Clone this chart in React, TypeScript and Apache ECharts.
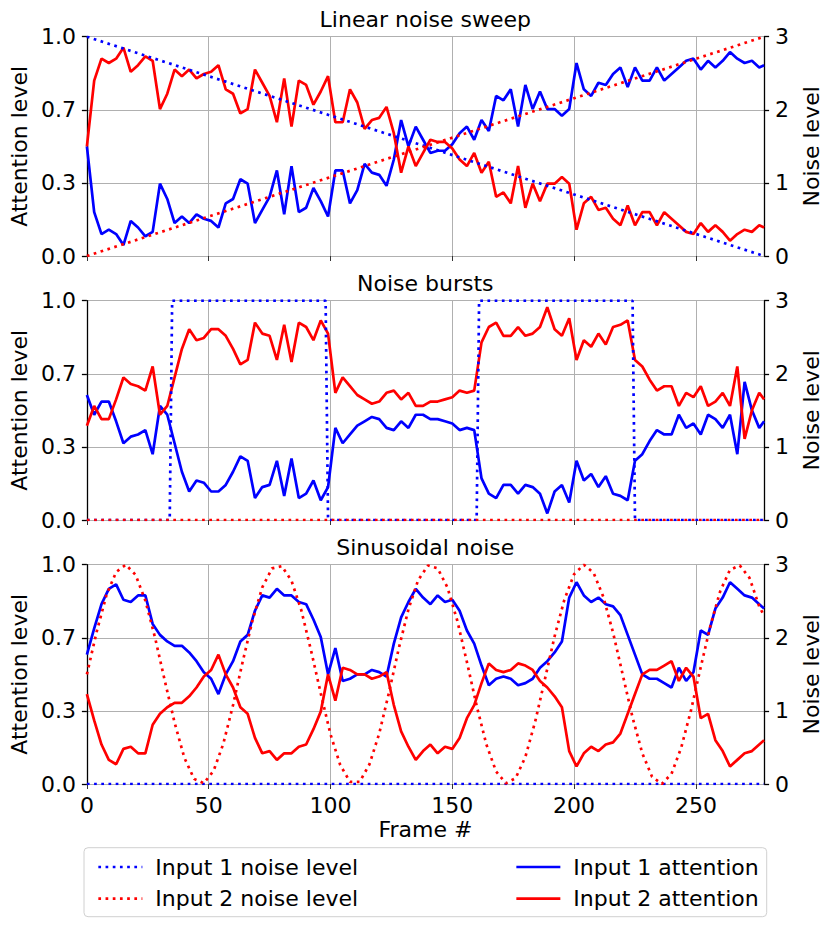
import React, { useEffect, useRef } from "react";
import * as echarts from "echarts";

// ---------- data ----------
const FRAMES = [
  0, 3, 6, 9, 12, 15, 18, 21, 24, 27,
  30, 33, 36, 39, 42, 45, 48, 51, 54, 57,
  60, 63, 66, 69, 72, 75, 78, 81, 84, 87,
  90, 93, 96, 99, 102, 105, 108, 111, 114, 117,
  120, 123, 126, 129, 132, 135, 138, 141, 144, 147,
  150, 153, 156, 159, 162, 165, 168, 171, 174, 177,
  180, 183, 186, 189, 192, 195, 198, 201, 204, 207,
  210, 213, 216, 219, 222, 225, 228, 231, 234, 237,
  240, 243, 246, 249, 252, 255, 258, 261, 264, 267,
  270, 273, 276, 278,
];

// Panel 1: linear noise sweep
const SWEEP_NOISE_FRAMES = [0, 278];
const SWEEP_NOISE1 = [3, 0];
const SWEEP_NOISE2 = [0, 3];
const SWEEP_ATT1 = [
  0.50, 0.20, 0.10, 0.12, 0.10, 0.05, 0.16, 0.13, 0.09, 0.11,
  0.33, 0.26, 0.15, 0.18, 0.15, 0.19, 0.17, 0.16, 0.13, 0.24,
  0.26, 0.35, 0.33, 0.15, 0.21, 0.27, 0.39, 0.19, 0.41, 0.20,
  0.22, 0.31, 0.25, 0.18, 0.39, 0.39, 0.24, 0.30, 0.42, 0.38,
  0.37, 0.32, 0.44, 0.62, 0.50, 0.59, 0.53, 0.47, 0.48, 0.48,
  0.51, 0.56, 0.59, 0.53, 0.62, 0.57, 0.73, 0.71, 0.76, 0.59,
  0.78, 0.67, 0.75, 0.67, 0.67, 0.64, 0.67, 0.88, 0.76, 0.73,
  0.79, 0.78, 0.83, 0.86, 0.77, 0.86, 0.80, 0.80, 0.86, 0.80,
  0.83, 0.86, 0.89, 0.90, 0.85, 0.89, 0.86, 0.89, 0.93, 0.90,
  0.88, 0.89, 0.86, 0.87,
];
const SWEEP_ATT2 = [
  0.50, 0.80, 0.90, 0.88, 0.90, 0.95, 0.84, 0.87, 0.91, 0.89,
  0.67, 0.74, 0.85, 0.82, 0.85, 0.81, 0.83, 0.84, 0.87, 0.76,
  0.74, 0.65, 0.67, 0.85, 0.79, 0.73, 0.61, 0.81, 0.59, 0.80,
  0.78, 0.69, 0.75, 0.82, 0.61, 0.61, 0.76, 0.70, 0.58, 0.62,
  0.63, 0.68, 0.56, 0.38, 0.50, 0.41, 0.47, 0.53, 0.52, 0.52,
  0.49, 0.44, 0.41, 0.47, 0.38, 0.43, 0.27, 0.29, 0.24, 0.41,
  0.22, 0.33, 0.25, 0.33, 0.33, 0.36, 0.33, 0.12, 0.24, 0.27,
  0.21, 0.22, 0.17, 0.14, 0.23, 0.14, 0.20, 0.20, 0.14, 0.20,
  0.17, 0.14, 0.11, 0.10, 0.15, 0.11, 0.14, 0.11, 0.07, 0.10,
  0.12, 0.11, 0.14, 0.13,
];

// Panel 2: noise bursts
const BURST_NOISE1_FRAMES = [0, 34, 35, 98, 99, 160, 161, 224, 225, 278];
const BURST_NOISE1 = [0, 0, 3, 3, 0, 0, 3, 3, 0, 0];
const BURST_NOISE2_FRAMES = [0, 278];
const BURST_NOISE2 = [0, 0];
const BURST_ATT1 = [
  0.57, 0.48, 0.54, 0.54, 0.45, 0.35, 0.38, 0.39, 0.41, 0.30,
  0.52, 0.48, 0.35, 0.22, 0.13, 0.18, 0.17, 0.13, 0.13, 0.16,
  0.22, 0.29, 0.27, 0.10, 0.15, 0.16, 0.27, 0.11, 0.28, 0.10,
  0.12, 0.18, 0.09, 0.15, 0.42, 0.35, 0.39, 0.43, 0.45, 0.47,
  0.46, 0.42, 0.41, 0.45, 0.42, 0.48, 0.48, 0.46, 0.46, 0.45,
  0.44, 0.41, 0.42, 0.41, 0.19, 0.12, 0.10, 0.16, 0.16, 0.12,
  0.16, 0.15, 0.12, 0.03, 0.13, 0.16, 0.08, 0.27, 0.18, 0.21,
  0.15, 0.20, 0.12, 0.11, 0.09, 0.27, 0.30, 0.36, 0.41, 0.39,
  0.39, 0.48, 0.42, 0.44, 0.39, 0.48, 0.46, 0.42, 0.48, 0.30,
  0.63, 0.50, 0.42, 0.45,
];
const BURST_ATT2 = [
  0.43, 0.52, 0.46, 0.46, 0.55, 0.65, 0.62, 0.61, 0.59, 0.70,
  0.48, 0.52, 0.65, 0.78, 0.87, 0.82, 0.83, 0.87, 0.87, 0.84,
  0.78, 0.71, 0.73, 0.90, 0.85, 0.84, 0.73, 0.89, 0.72, 0.90,
  0.88, 0.82, 0.91, 0.85, 0.58, 0.65, 0.61, 0.57, 0.55, 0.53,
  0.54, 0.58, 0.59, 0.55, 0.58, 0.52, 0.52, 0.54, 0.54, 0.55,
  0.56, 0.59, 0.58, 0.59, 0.81, 0.88, 0.90, 0.84, 0.84, 0.88,
  0.84, 0.85, 0.88, 0.97, 0.87, 0.84, 0.92, 0.73, 0.82, 0.79,
  0.85, 0.80, 0.88, 0.89, 0.91, 0.73, 0.70, 0.64, 0.59, 0.61,
  0.61, 0.52, 0.58, 0.56, 0.61, 0.52, 0.54, 0.58, 0.52, 0.70,
  0.37, 0.50, 0.58, 0.55,
];

// Panel 3: sinusoidal noise
const SINE_NOISE1_FRAMES = [0, 278];
const SINE_NOISE1 = [0, 0];
const SINE_NOISE2_FRAMES = [
  0, 4, 8, 12, 16, 20, 24, 28, 32, 36,
  40, 44, 48, 52, 56, 60, 64, 68, 72, 76,
  80, 84, 88, 92, 96, 100, 104, 108, 112, 116,
  120, 124, 128, 132, 136, 140, 144, 148, 152, 156,
  160, 164, 168, 172, 176, 180, 184, 188, 192, 196,
  200, 204, 208, 212, 216, 220, 224, 228, 232, 236,
  240, 244, 248, 252, 256, 260, 264, 268, 272, 276, 278,
];
const SINE_NOISE2 = [
  1.50, 2.08, 2.58, 2.90, 3.00, 2.86, 2.51, 2.00, 1.41, 0.84,
  0.36, 0.07, 0.01, 0.18, 0.55, 1.08, 1.68, 2.24, 2.69, 2.95,
  2.98, 2.78, 2.38, 1.83, 1.24, 0.68, 0.26, 0.03, 0.03, 0.27,
  0.69, 1.25, 1.85, 2.39, 2.79, 2.99, 2.95, 2.69, 2.24, 1.67,
  1.07, 0.54, 0.17, 0.01, 0.08, 0.37, 0.85, 1.43, 2.02, 2.52,
  2.87, 3.00, 2.89, 2.56, 2.07, 1.49, 0.91, 0.42, 0.10, 0.00,
  0.14, 0.50, 1.01, 1.60, 2.17, 2.64, 2.93, 2.99, 2.82, 2.43, 2.30,
];
const SINE_ATT1 = [
  0.59, 0.71, 0.82, 0.89, 0.91, 0.84, 0.83, 0.86, 0.86, 0.73,
  0.68, 0.65, 0.63, 0.63, 0.60, 0.56, 0.51, 0.48, 0.41, 0.50,
  0.56, 0.65, 0.68, 0.79, 0.86, 0.85, 0.89, 0.86, 0.86, 0.83,
  0.82, 0.75, 0.67, 0.50, 0.62, 0.47, 0.48, 0.50, 0.50, 0.52,
  0.51, 0.49, 0.64, 0.76, 0.83, 0.89, 0.85, 0.82, 0.86, 0.83,
  0.84, 0.79, 0.70, 0.64, 0.54, 0.45, 0.48, 0.49, 0.48, 0.45,
  0.46, 0.48, 0.53, 0.56, 0.60, 0.65, 0.85, 0.92, 0.86, 0.83,
  0.85, 0.82, 0.81, 0.77, 0.68, 0.59, 0.50, 0.48, 0.48, 0.46,
  0.44, 0.53, 0.47, 0.51, 0.70, 0.68, 0.80, 0.85, 0.92, 0.89,
  0.86, 0.85, 0.82, 0.80,
];
const SINE_ATT2 = [
  0.41, 0.29, 0.18, 0.11, 0.09, 0.16, 0.17, 0.14, 0.14, 0.27,
  0.32, 0.35, 0.37, 0.37, 0.40, 0.44, 0.49, 0.52, 0.59, 0.50,
  0.44, 0.35, 0.32, 0.21, 0.14, 0.15, 0.11, 0.14, 0.14, 0.17,
  0.18, 0.25, 0.33, 0.50, 0.38, 0.53, 0.52, 0.50, 0.50, 0.48,
  0.49, 0.51, 0.36, 0.24, 0.17, 0.11, 0.15, 0.18, 0.14, 0.17,
  0.16, 0.21, 0.30, 0.36, 0.46, 0.55, 0.52, 0.51, 0.52, 0.55,
  0.54, 0.52, 0.47, 0.44, 0.40, 0.35, 0.15, 0.08, 0.14, 0.17,
  0.15, 0.18, 0.19, 0.23, 0.32, 0.41, 0.50, 0.52, 0.52, 0.54,
  0.56, 0.47, 0.53, 0.49, 0.30, 0.32, 0.20, 0.15, 0.08, 0.11,
  0.14, 0.15, 0.18, 0.20,
];

const PANEL_TITLES = ["Linear noise sweep", "Noise bursts", "Sinusoidal noise"];
const X_TICKS = [0, 50, 100, 150, 200, 250];
const SERIES_NAMES = [
  "Input 1 noise level",
  "Input 2 noise level",
  "Input 1 attention",
  "Input 2 attention",
];
const X_LABEL = "Frame #";
const LEFT_LABEL = "Attention level";
const RIGHT_LABEL = "Noise level";

// ---------- styling / layout ----------
const FONT = "DejaVu Sans";
const FS = 22;
const BLUE = "#0000ff";
const RED = "#ff0000";
const GRID_COLOR = "#b0b0b0";
const PLOT_LEFT = 83.3;
const PLOT_WIDTH = 684;
const PLOT_HEIGHT = 219.3;
const PLOT_TOPS = [36.7, 300.7, 564.7];
const LW = 2.7;
const DOT = [2.7, 4.5];

const zip = (xs: number[], ys: number[]) => xs.map((x, i) => [x, ys[i]]);

const PANELS = [
  {
    noise1: zip(SWEEP_NOISE_FRAMES, SWEEP_NOISE1),
    noise2: zip(SWEEP_NOISE_FRAMES, SWEEP_NOISE2),
    att1: zip(FRAMES, SWEEP_ATT1),
    att2: zip(FRAMES, SWEEP_ATT2),
  },
  {
    noise1: zip(BURST_NOISE1_FRAMES, BURST_NOISE1),
    noise2: zip(BURST_NOISE2_FRAMES, BURST_NOISE2),
    att1: zip(FRAMES, BURST_ATT1),
    att2: zip(FRAMES, BURST_ATT2),
  },
  {
    noise1: zip(SINE_NOISE1_FRAMES, SINE_NOISE1),
    noise2: zip(SINE_NOISE2_FRAMES, SINE_NOISE2),
    att1: zip(FRAMES, SINE_ATT1),
    att2: zip(FRAMES, SINE_ATT2),
  },
];

function buildOption() {
  const grid = PLOT_TOPS.map((top) => ({
    left: PLOT_LEFT,
    top,
    width: PLOT_WIDTH,
    height: PLOT_HEIGHT,
    containLabel: false,
  }));

  const xAxis = PLOT_TOPS.map((_, i) => ({
    type: "value",
    gridIndex: i,
    min: 0,
    max: 278,
    interval: 50,
    axisLine: { show: false },
    axisTick: {
      show: true,
      length: 5,
      customValues: X_TICKS,
      lineStyle: { color: "#333", width: 1 },
    },
    axisLabel: {
      show: i === 2,
      customValues: X_TICKS,
      formatter: (v: number) => (v % 50 === 0 ? String(v) : ""),
      fontSize: FS,
      fontFamily: FONT,
      color: "#000",
      margin: 10,
    },
    splitLine: { show: true, lineStyle: { color: GRID_COLOR, width: 1 } },
    name: i === 2 ? X_LABEL : "",
    nameLocation: "middle",
    nameGap: 34,
    nameTextStyle: { fontSize: FS, fontFamily: FONT, color: "#000" },
  }));

  const yAxis: any[] = [];
  PLOT_TOPS.forEach((_, i) => {
    yAxis.push({
      type: "value",
      gridIndex: i,
      position: "left",
      min: 0,
      max: 1,
      interval: 1 / 3,
      axisLine: { show: true, lineStyle: { color: "#000", width: 1.3 } },
      axisTick: { show: true, length: 5, lineStyle: { color: "#000", width: 1.3 } },
      axisLabel: {
        fontSize: FS,
        fontFamily: FONT,
        color: "#000",
        margin: 11,
        formatter: (v: number) => v.toFixed(1),
      },
      splitLine: { show: false },
      name: LEFT_LABEL,
      nameLocation: "middle",
      nameGap: 53,
      nameTextStyle: { fontSize: FS, fontFamily: FONT, color: "#000" },
    });
    yAxis.push({
      type: "value",
      gridIndex: i,
      position: "right",
      min: 0,
      max: 3,
      interval: 1,
      axisLine: { show: true, lineStyle: { color: "#000", width: 1.3 } },
      axisTick: { show: true, length: 5, lineStyle: { color: "#000", width: 1.3 } },
      axisLabel: {
        fontSize: FS,
        fontFamily: FONT,
        color: "#000",
        margin: 11,
      },
      splitLine: { show: true, lineStyle: { color: GRID_COLOR, width: 1 } },
      name: RIGHT_LABEL,
      nameLocation: "middle",
      nameGap: 25,
      nameTextStyle: { fontSize: FS, fontFamily: FONT, color: "#000" },
    });
  });

  const series: any[] = [];
  PANELS.forEach((p, i) => {
    const common = {
      type: "line",
      xAxisIndex: i,
      symbol: "none",
      showSymbol: false,
      silent: true,
    };
    series.push({
      ...common,
      name: SERIES_NAMES[2],
      yAxisIndex: 2 * i,
      data: p.att1,
      z: 2,
      itemStyle: { color: BLUE },
      lineStyle: { color: BLUE, width: LW, type: "solid" },
    });
    series.push({
      ...common,
      name: SERIES_NAMES[3],
      yAxisIndex: 2 * i,
      data: p.att2,
      z: 2,
      itemStyle: { color: RED },
      lineStyle: { color: RED, width: LW, type: "solid" },
    });
    series.push({
      ...common,
      name: SERIES_NAMES[0],
      yAxisIndex: 2 * i + 1,
      data: p.noise1,
      z: 3,
      itemStyle: { color: BLUE },
      lineStyle: { color: BLUE, width: LW, type: DOT },
    });
    series.push({
      ...common,
      name: SERIES_NAMES[1],
      yAxisIndex: 2 * i + 1,
      data: p.noise2,
      z: 3,
      itemStyle: { color: RED },
      lineStyle: { color: RED, width: LW, type: DOT },
    });
  });

  const legendCommon = {
    orient: "vertical",
    top: 850,
    itemWidth: 44,
    itemHeight: 14,
    itemGap: 7.7,
    selectedMode: false,
    z: 10,
    itemStyle: { opacity: 0, borderWidth: 0 },
    lineStyle: { width: LW },
    textStyle: {
      fontSize: FS,
      fontFamily: FONT,
      color: "#000",
      lineHeight: 24,
      padding: [0, 0, 0, 8],
    },
  };

  const legend = [
    { ...legendCommon, left: 92, data: [SERIES_NAMES[0], SERIES_NAMES[1]] },
    { ...legendCommon, left: 510, data: [SERIES_NAMES[2], SERIES_NAMES[3]] },
  ];

  const titleEls = PANEL_TITLES.map((t, i) => ({
    type: "text",
    x: PLOT_LEFT + PLOT_WIDTH / 2,
    y: PLOT_TOPS[i] - 16.8,
    z: 10,
    style: {
      text: t,
      align: "center",
      verticalAlign: "middle",
      fontSize: FS,
      fontFamily: FONT,
      fill: "#000",
    },
  }));

  return {
    animation: false,
    backgroundColor: "#fff",
    textStyle: { fontFamily: FONT },
    grid,
    xAxis,
    yAxis,
    series,
    legend,
    graphic: {
      elements: [
        {
          type: "rect",
          z: 0,
          shape: { x: 84, y: 847.7, width: 682.7, height: 69, r: 4 },
          style: { fill: "#fff", stroke: "#d0d0d0", lineWidth: 1 },
        },
        ...titleEls,
      ],
    },
  };
}

export default function App() {
  const ref = useRef<HTMLDivElement>(null);
  useEffect(() => {
    if (!ref.current) return;
    const chart = echarts.init(ref.current, undefined, { renderer: "svg" });
    chart.setOption(buildOption() as any);
    return () => {
      chart.dispose();
    };
  }, []);
  return (
    <div
      ref={ref}
      style={{ position: "absolute", left: 0, top: 0, width: 830, height: 929 }}
    />
  );
}
